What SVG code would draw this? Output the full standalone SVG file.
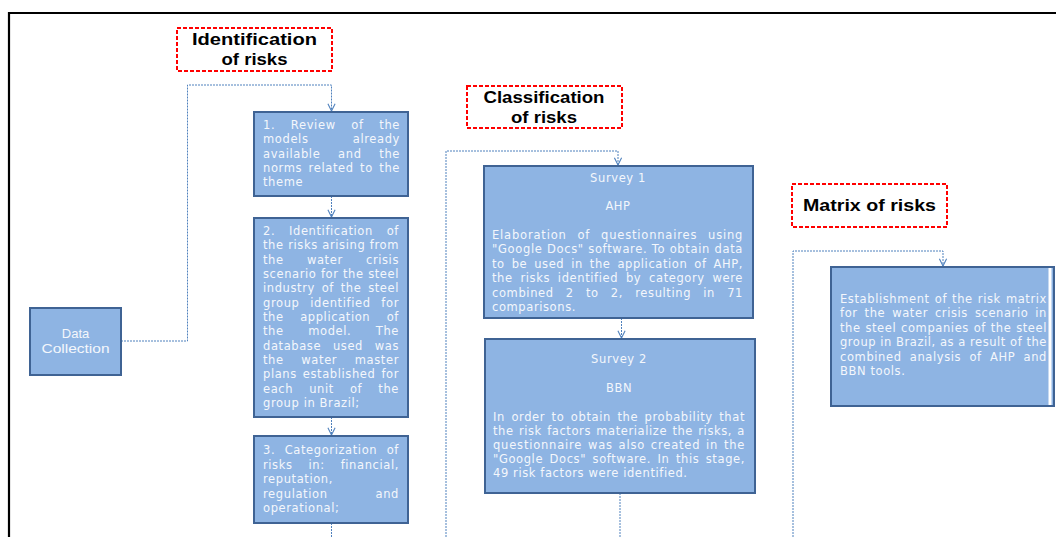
<svg xmlns="http://www.w3.org/2000/svg" width="1056" height="537" viewBox="0 0 1056 537">
<defs>
<marker id="arr" viewBox="0 0 10 10" refX="9" refY="5" markerWidth="9" markerHeight="9" markerUnits="userSpaceOnUse" orient="auto">
<path d="M1,1 L9,5 L1,9" fill="none" stroke="#4F81BD" stroke-width="1.2"/>
</marker>
</defs>
<style>
.title{fill:#fff;stroke:#FF0000;stroke-width:2;stroke-dasharray:4 2}
.tt{font-family:"Liberation Sans",Arial,sans-serif;font-weight:bold;font-size:17px;fill:#000;text-anchor:middle}
.box{fill:#8EB4E3;stroke:#3F6394;stroke-width:2}
.bt{font-family:"DejaVu Sans","Liberation Sans",sans-serif;font-size:11.5px;letter-spacing:0.6px;fill:#F4F7FC}
.c{text-anchor:middle}
.dc{font-family:"Liberation Sans",Arial,sans-serif;font-size:13px;fill:#F4F7FC;text-anchor:middle}
.con{fill:none;stroke:#4F81BD;stroke-width:1;stroke-dasharray:2 1}
</style>
<rect width="1056" height="537" fill="#fff"/>
<path d="M9,537 L9,13 L1056,13" fill="none" stroke="#000" stroke-width="2.2"/>

<g id="connectors">
<path class="con" d="M121,341 H187.5 V85 H331.5 V111" marker-end="url(#arr)"/>
<path class="con" d="M331.5,196 V217" marker-end="url(#arr)"/>
<path class="con" d="M331.5,417 V435" marker-end="url(#arr)"/>
<path class="con" d="M331.5,523 V537"/>
<path class="con" d="M446,537 V151 H618 V165" marker-end="url(#arr)"/>
<path class="con" d="M621.5,318 V338" marker-end="url(#arr)"/>
<path class="con" d="M620,493 V537"/>
<path class="con" d="M793,537 V251 H943 V266" marker-end="url(#arr)"/>
</g>

<g id="title-identification">
<rect class="title" x="177" y="28" width="155" height="43"/>
<text class="tt" x="254.5" y="45" textLength="125" lengthAdjust="spacingAndGlyphs">Identification</text>
<text class="tt" x="254.5" y="65" textLength="66" lengthAdjust="spacingAndGlyphs">of risks</text>
</g>

<g id="title-classification">
<rect class="title" x="467" y="86" width="155" height="42"/>
<text class="tt" x="544" y="103" textLength="121" lengthAdjust="spacingAndGlyphs">Classification</text>
<text class="tt" x="544" y="123" textLength="66" lengthAdjust="spacingAndGlyphs">of risks</text>
</g>

<g id="title-matrix">
<rect class="title" x="792" y="184" width="155" height="43"/>
<text class="tt" x="869.5" y="211" textLength="133" lengthAdjust="spacingAndGlyphs">Matrix of risks</text>
</g>

<g id="data-collection">
<rect class="box" x="30" y="308" width="91" height="67"/>
<text class="dc" x="75.5" y="338">Data</text>
<text class="dc" x="75.5" y="353" textLength="68" lengthAdjust="spacingAndGlyphs">Collection</text>
</g>

<g id="step1">
<rect class="box" x="254" y="112" width="154" height="84"/>
<text class="bt" x="263" y="129" style="word-spacing:11.3px" textLength="137" lengthAdjust="spacing">1. Review of the</text>
<text class="bt" x="263" y="143" style="word-spacing:39.9px" textLength="137" lengthAdjust="spacing">models already</text>
<text class="bt" x="263" y="158" style="word-spacing:13.5px" textLength="137" lengthAdjust="spacing">available and the</text>
<text class="bt" x="263" y="172" style="word-spacing:2.1px" textLength="137" lengthAdjust="spacing">norms related to the</text>
<text class="bt" x="263" y="186">theme</text>
</g>

<g id="step2">
<rect class="box" x="254" y="218" width="154" height="199"/>
<text class="bt" x="263" y="235" style="word-spacing:9.6px" textLength="136" lengthAdjust="spacing">2. Identification of</text>
<text class="bt" x="263" y="249.3" style="word-spacing:0.2px" textLength="136" lengthAdjust="spacing">the risks arising from</text>
<text class="bt" x="263" y="263.7" style="word-spacing:19px" textLength="136" lengthAdjust="spacing">the water crisis</text>
<text class="bt" x="263" y="278" style="word-spacing:0.2px" textLength="136" lengthAdjust="spacing">scenario for the steel</text>
<text class="bt" x="263" y="292.3" style="word-spacing:2.5px" textLength="136" lengthAdjust="spacing">industry of the steel</text>
<text class="bt" x="263" y="306.7" style="word-spacing:6.5px" textLength="136" lengthAdjust="spacing">group identified for</text>
<text class="bt" x="263" y="321" style="word-spacing:12.2px" textLength="136" lengthAdjust="spacing">the application of</text>
<text class="bt" x="263" y="335.3" style="word-spacing:20.3px" textLength="136" lengthAdjust="spacing">the model. The</text>
<text class="bt" x="263" y="349.7" style="word-spacing:7.5px" textLength="136" lengthAdjust="spacing">database used was</text>
<text class="bt" x="263" y="364" style="word-spacing:13.4px" textLength="136" lengthAdjust="spacing">the water master</text>
<text class="bt" x="263" y="378.3" style="word-spacing:1.7px" textLength="136" lengthAdjust="spacing">plans established for</text>
<text class="bt" x="263" y="392.7" style="word-spacing:11.8px" textLength="136" lengthAdjust="spacing">each unit of the</text>
<text class="bt" x="263" y="407">group in Brazil;</text>
</g>

<g id="step3">
<rect class="box" x="254" y="436" width="154" height="87"/>
<text class="bt" x="263" y="454" style="word-spacing:5.3px" textLength="136" lengthAdjust="spacing">3. Categorization of</text>
<text class="bt" x="263" y="468.5" style="word-spacing:11.7px" textLength="136" lengthAdjust="spacing">risks in: financial,</text>
<text class="bt" x="263" y="483">reputation,</text>
<text class="bt" x="263" y="497.5" style="word-spacing:43.6px" textLength="136" lengthAdjust="spacing">regulation and</text>
<text class="bt" x="263" y="512">operational;</text>
</g>

<g id="survey1">
<rect class="box" x="484" y="166" width="269" height="152"/>
<text class="bt c" x="618" y="182">Survey 1</text>
<text class="bt c" x="618" y="210">AHP</text>
<text class="bt" x="492" y="239" style="word-spacing:6.4px" textLength="251" lengthAdjust="spacing">Elaboration of questionnaires using</text>
<text class="bt" x="492" y="253.4" style="word-spacing:0.1px" textLength="251" lengthAdjust="spacing">"Google Docs" software. To obtain data</text>
<text class="bt" x="492" y="267.8" style="word-spacing:2.7px" textLength="251" lengthAdjust="spacing">to be used in the application of AHP,</text>
<text class="bt" x="492" y="282.2" style="word-spacing:3.5px" textLength="251" lengthAdjust="spacing">the risks identified by category were</text>
<text class="bt" x="492" y="296.6" style="word-spacing:7.9px" textLength="251" lengthAdjust="spacing">combined 2 to 2, resulting in 71</text>
<text class="bt" x="492" y="311">comparisons.</text>
</g>

<g id="survey2">
<rect class="box" x="485" y="339" width="270" height="154"/>
<text class="bt c" x="619" y="363">Survey 2</text>
<text class="bt c" x="619" y="392">BBN</text>
<text class="bt" x="493" y="421" style="word-spacing:2.2px" textLength="252" lengthAdjust="spacing">In order to obtain the probability that</text>
<text class="bt" x="493" y="435" style="word-spacing:1px" textLength="252" lengthAdjust="spacing">the risk factors materialize the risks, a</text>
<text class="bt" x="493" y="449" style="word-spacing:1.3px" textLength="252" lengthAdjust="spacing">questionnaire was also created in the</text>
<text class="bt" x="493" y="463" style="word-spacing:2.2px" textLength="252" lengthAdjust="spacing">"Google Docs" software. In this stage,</text>
<text class="bt" x="493" y="477">49 risk factors were identified.</text>
</g>

<g id="matrix">
<rect class="box" x="831" y="267" width="223" height="139"/>
<line x1="1050" y1="268" x2="1050" y2="405" stroke="#fff" stroke-width="3"/>
<text class="bt" x="840" y="303" style="word-spacing:0.8px" textLength="207" lengthAdjust="spacing">Establishment of the risk matrix</text>
<text class="bt" x="840" y="317.4" style="word-spacing:2.7px" textLength="207" lengthAdjust="spacing">for the water crisis scenario in</text>
<text class="bt" x="840" y="331.8" style="word-spacing:0.5px" textLength="207" lengthAdjust="spacing">the steel companies of the steel</text>
<text class="bt" x="840" y="346.2" textLength="207" lengthAdjust="spacing">group in Brazil, as a result of the</text>
<text class="bt" x="840" y="360.6" style="word-spacing:4px" textLength="207" lengthAdjust="spacing">combined analysis of AHP and</text>
<text class="bt" x="840" y="375">BBN tools.</text>
</g>
</svg>
